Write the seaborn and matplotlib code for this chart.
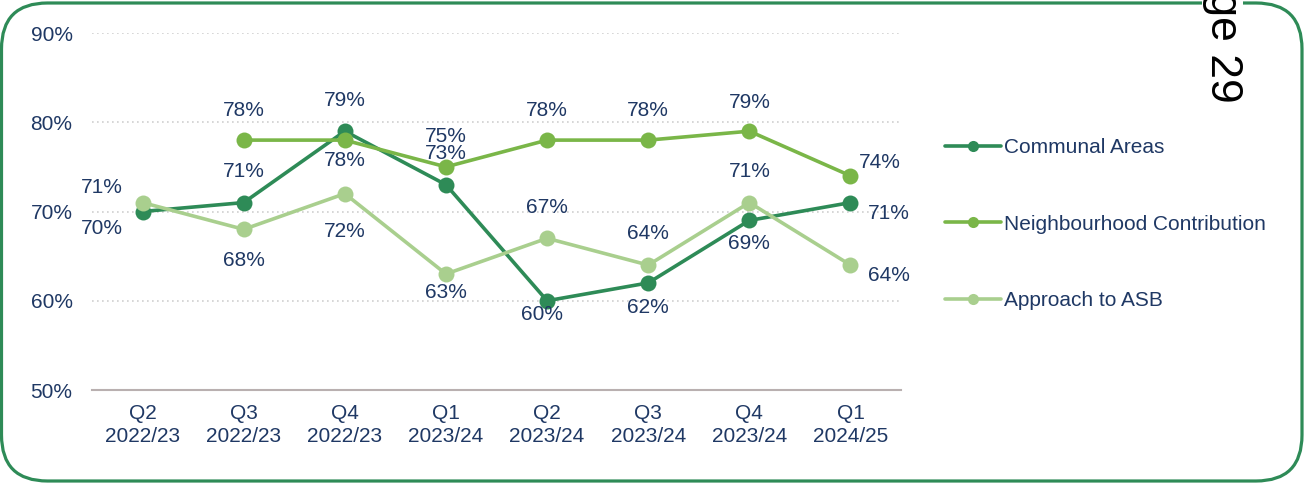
import numpy as np
import pandas as pd
import matplotlib
matplotlib.use('Agg')
import matplotlib.pyplot as plt
from matplotlib.lines import Line2D
from matplotlib.patches import FancyBboxPatch
import seaborn as sns

quarters = ['Q2\n2022/23', 'Q3\n2022/23', 'Q4\n2022/23', 'Q1\n2023/24',
            'Q2\n2023/24', 'Q3\n2023/24', 'Q4\n2023/24', 'Q1\n2024/25']
communal = [70, 71, 79, 73, 60, 62, 69, 71]
neighbourhood = [np.nan, 78, 78, 75, 78, 78, 79, 74]
asb = [71, 68, 72, 63, 67, 64, 71, 64]
series_names = ['Communal Areas', 'Neighbourhood Contribution', 'Approach to ASB']
y_ticks = [50, 60, 70, 80, 90]

# label offsets in pixels (dx, dy up)
label_offsets = {
    'Communal Areas': [(-41, -17), (0, 31), (0, 31), (0, 31), (-5, -14), (0, -25), (0, -23), (38, -11)],
    'Neighbourhood Contribution': [None, (0, 30), (0, -20), (0, 30), (0, 30), (0, 30), (0, 29), (29, 13)],
    'Approach to ASB': [(-41, 15), (0, -31), (0, -38), (0, -19), (0, 31), (0, 32), (0, 31), (38, -10)],
}

colors = ['#2E8B57', '#7AB648', '#A9CF8E']
navy = '#1F3864'
fs = 15

df = pd.DataFrame({
    'quarter': quarters * 3,
    'value': communal + neighbourhood + asb,
    'series': [s for s in series_names for _ in quarters],
})

sns.set_style('white')
plt.rcParams['font.family'] = ['Liberation Sans', 'DejaVu Sans']

fig = plt.figure(figsize=(13.07, 4.84), dpi=100)
ax = fig.add_axes([0.0704, 0.1942, 0.619, 0.7376])

sns.lineplot(data=df, x='quarter', y='value', hue='series', palette=colors,
             hue_order=series_names, marker='o', markersize=11.5, markeredgewidth=0,
             linewidth=2.6, sort=False, legend=False, ax=ax)

for name in series_names:
    sub = df[df['series'] == name].reset_index(drop=True)
    for i, row in sub.iterrows():
        if pd.isna(row['value']):
            continue
        ax.annotate(f"{int(row['value'])}%", (i, row['value']),
                    xytext=label_offsets[name][i], textcoords='offset pixels',
                    ha='center', va='center', fontsize=fs, color=navy)

ax.set_xlim(-0.5, len(quarters) - 0.5)
ax.set_ylim(50, 90)
ax.set_yticks(y_ticks)
ax.set_yticklabels([f'{t}%' for t in y_ticks])
ax.set_xlabel('')
ax.set_ylabel('')
ax.tick_params(axis='both', length=0, labelsize=fs, labelcolor=navy)
ax.tick_params(axis='y', pad=14)
ax.tick_params(axis='x', pad=10)
for lab in ax.get_xticklabels():
    lab.set_linespacing(1.25)

for t in y_ticks[1:]:
    ax.axhline(t, color='#D0D0D0', linestyle=(0, (1, 2)), linewidth=1.2, zorder=0)
for s in ['top', 'right', 'left']:
    ax.spines[s].set_visible(False)
ax.spines['bottom'].set_color('#B9B0B0')
ax.spines['bottom'].set_linewidth(1.5)

handles = [Line2D([], [], color=c, marker='o', markersize=8, markeredgewidth=0, linewidth=2.6)
           for c in colors]
fig.legend(handles, series_names, loc='center left', bbox_to_anchor=(0.723, 0.537),
           frameon=False, fontsize=fs, labelcolor=navy, labelspacing=2.75,
           handlelength=2.7, handletextpad=0.15, borderpad=0, borderaxespad=0)

box = FancyBboxPatch((0.015, 0.03), 13.005, 4.78,
                     boxstyle='round,pad=0,rounding_size=0.46',
                     transform=fig.dpi_scale_trans, fill=False,
                     edgecolor='#2E8B57', linewidth=2.3)
fig.add_artist(box)

fig.text(0.935, 1 - 103 / 484, 'Page 29', rotation=270, ha='center', va='bottom',
         fontsize=32, color='black',
         bbox=dict(facecolor='white', edgecolor='none', pad=0))

fig.savefig('out.png', dpi=100)
